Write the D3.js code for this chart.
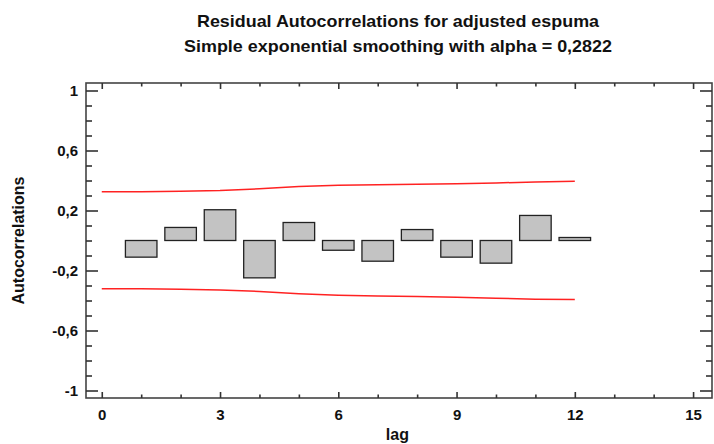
<!DOCTYPE html>
<html>
<head>
<meta charset="utf-8">
<script src="https://cdn.jsdelivr.net/npm/d3@7"></script>
<style>
  body { margin: 0; background: #fff; }
  text { font-family: "Liberation Sans", Arial, sans-serif; font-weight: bold; fill: #111; }
</style>
</head>
<body>
<div id="graph"></div>
<script>
"use strict"

// residual autocorrelations
var lags = [1, 2, 3, 4, 5, 6, 7, 8, 9, 10, 11, 12]
var acf = [-0.111, 0.087, 0.205, -0.249, 0.12, -0.065, -0.138, 0.073, -0.111, -0.151, 0.167, 0.02]

// probability limits
var limitLags = [0, 1, 2, 3, 4, 5, 6, 7, 8, 9, 10, 11, 12]
var upperLimit = [0.325, 0.325, 0.328, 0.333, 0.345, 0.36, 0.369, 0.372, 0.375, 0.378, 0.384, 0.39, 0.395]
var lowerLimit = [-0.322, -0.322, -0.325, -0.33, -0.34, -0.355, -0.365, -0.37, -0.373, -0.378, -0.385, -0.391, -0.394]

var yTicks = [1, 0.6, 0.2, -0.2, -0.6, -1]
var xTicks = [0, 3, 6, 9, 12, 15]

var titleLines = ["Residual Autocorrelations for adjusted espuma",
                  "Simple exponential smoothing with alpha = 0,2822"]

var width = 714, height = 444
var margin = {top: 83, left: 86, bottom: 46, right: 2}

main()

function main() {
    let svg = d3.select("#graph").append("svg")
        .attr("width", width).attr("height", height)

    let x = d3.scaleLinear().domain([-0.4, 15.48]).range([margin.left, width - margin.right])
    let y = d3.scaleLinear().domain([-1.05, 1.05]).range([height - margin.bottom, margin.top])

    let fmt = function(d) { return String(d).replace(".", ",") }
    let minorY = d3.range(-10, 11).map(function(i) { return i / 10 })
        .filter(function(v) { return yTicks.indexOf(v) < 0 })
    let minorX = d3.range(0, 16).filter(function(v) { return xTicks.indexOf(v) < 0 })

    // frame
    svg.append("rect")
        .attr("x", margin.left).attr("y", margin.top)
        .attr("width", width - margin.right - margin.left)
        .attr("height", height - margin.bottom - margin.top)
        .attr("fill", "none").attr("stroke", "#444").attr("stroke-width", 1.6)

    let axes = [
        [d3.axisLeft(y).tickValues(yTicks).tickSize(-12).tickPadding(8).tickFormat(fmt), margin.left, 0, true],
        [d3.axisLeft(y).tickValues(minorY).tickSize(-6).tickFormat(""), margin.left, 0],
        [d3.axisRight(y).tickValues(yTicks).tickSize(-12).tickFormat(""), width - margin.right, 0],
        [d3.axisRight(y).tickValues(minorY).tickSize(-6).tickFormat(""), width - margin.right, 0],
        [d3.axisBottom(x).tickValues(xTicks).tickSize(-6).tickPadding(11).tickFormat(d3.format("d")), 0, height - margin.bottom, true],
        [d3.axisBottom(x).tickValues(minorX).tickSize(-3.5).tickFormat(""), 0, height - margin.bottom],
        [d3.axisTop(x).tickValues(xTicks).tickSize(-6).tickFormat(""), 0, margin.top],
        [d3.axisTop(x).tickValues(minorX).tickSize(-3.5).tickFormat(""), 0, margin.top]
    ]
    axes.forEach(function(a) {
        let g = svg.append("g")
            .attr("transform", "translate(" + [a[1], a[2]] + ")")
            .call(a[0])
        g.select(".domain").remove()
        g.selectAll(".tick line").attr("stroke", "#333").attr("stroke-width", 1.6)
        g.selectAll(".tick text")
            .style("font-size", "15px").attr("fill", "#111")
            .style("font-family", "'Liberation Sans', Arial, sans-serif").style("font-weight", "bold")
    })

    // bars, 0.8 lag wide
    let bw = x(0.8) - x(0)
    svg.selectAll(".bar")
        .data(lags)
        .enter().append("rect")
        .attr("class", "bar")
        .attr("x", function(d) { return x(d) - bw / 2 })
        .attr("y", function(d, i) { return y(Math.max(0, acf[i])) })
        .attr("width", bw)
        .attr("height", function(d, i) { return Math.abs(y(acf[i]) - y(0)) })
        .attr("fill", "#c3c3c3")
        .attr("stroke", "#222")
        .attr("stroke-width", 1.3)

    // limit lines
    let line = d3.line()
        .x(function(d) { return x(d[0]) })
        .y(function(d) { return y(d[1]) })
    ;[upperLimit, lowerLimit].forEach(function(lim) {
        svg.append("path")
            .datum(limitLags.map(function(l, i) { return [l, lim[i]] }))
            .attr("d", line)
            .attr("fill", "none")
            .attr("stroke", "#f22")
            .attr("stroke-width", 1.5)
    })

    // titles
    let titleWidths = [402, 428]
    svg.selectAll(".title")
        .data(titleLines)
        .enter().append("text")
        .attr("class", "title")
        .attr("x", 398)
        .attr("y", function(d, i) { return 27 + i * 25 })
        .attr("text-anchor", "middle")
        .attr("textLength", function(d, i) { return titleWidths[i] })
        .attr("lengthAdjust", "spacingAndGlyphs")
        .style("font-size", "17px")
        .text(function(d) { return d })

    svg.append("text")
        .attr("x", x(7.5))
        .attr("y", 440)
        .attr("text-anchor", "middle")
        .style("font-size", "16px")
        .text("lag")

    svg.append("text")
        .attr("transform", "translate(24," + y(0) + ") rotate(-90)")
        .attr("text-anchor", "middle")
        .style("font-size", "16px")
        .text("Autocorrelations")
}
</script>
</body>
</html>
